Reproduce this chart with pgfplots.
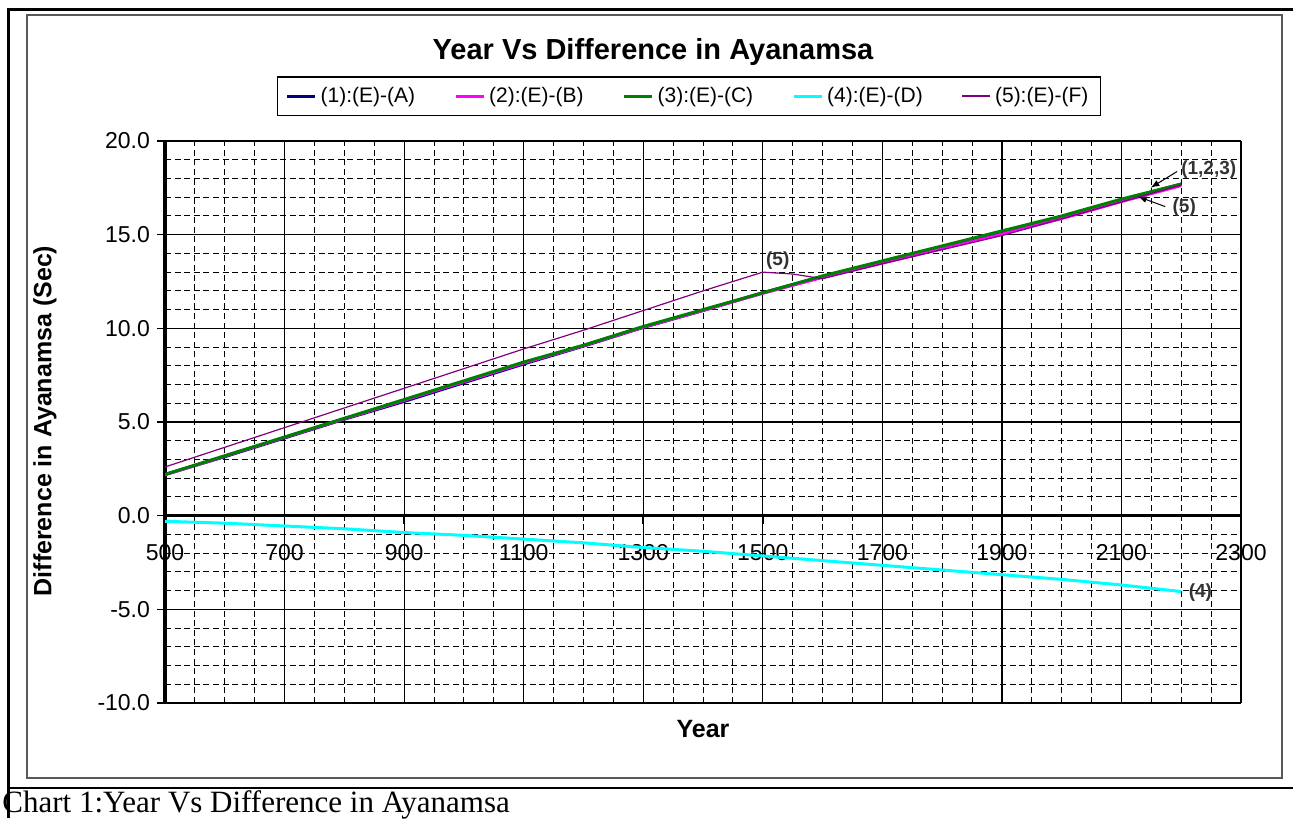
\documentclass[border=0pt]{standalone}
\usepackage{fontspec}
\setmainfont{Liberation Sans}
\newfontfamily\capfont{Liberation Serif}
\usepackage{pgfplots}
\pgfplotsset{compat=1.18}

\definecolor{sA}{RGB}{0,0,128}
\definecolor{sB}{RGB}{255,0,255}
\definecolor{sC}{RGB}{0,128,0}
\definecolor{sD}{RGB}{0,255,255}
\definecolor{sF}{RGB}{128,0,128}

\begin{document}
\begin{tikzpicture}
\useasboundingbox (0,0) rectangle (646.5pt,-409pt);
% frame, title, labels and caption (pixel grid of the reference)
\begin{scope}[x=0.5pt,y=-0.5pt]
  \draw[line width=1.5pt] (8,818) -- (8,10) -- (1293,10);
  \draw[line width=1.2pt] (8,788) -- (1293,788);
  \draw[black!65, line width=0.6pt] (27,15) rectangle (1282,778);
  \node[font=\bfseries\fontsize{14.5}{17}\selectfont] at (653,52) {Year Vs Difference in Ayanamsa};
  \node[font=\bfseries\fontsize{12.5}{15}\selectfont] at (703,729) {Year};
  \node[font=\bfseries\fontsize{12.5}{15}\selectfont, rotate=90] at (45,421) {Difference in Ayanamsa (Sec)};
  \node[anchor=base west, inner sep=0pt, font=\capfont\fontsize{15.5}{18}\selectfont] at (2,812) {Chart 1:Year Vs Difference in Ayanamsa};
\end{scope}

\begin{axis}[
  at={(82.5pt,-351.5pt)}, anchor=south west,
  scale only axis, width=538pt, height=281pt,
  xmin=500, xmax=2300, ymin=-10, ymax=20,
  axis x line*=middle, axis y line*=left,
  hide obscured x ticks=false, hide obscured y ticks=false,
  xtick={500,700,...,2300}, ytick={-10,-5,...,20},
  minor x tick num=3, minor y tick num=4,
  grid=both,
  major grid style={black, line width=0.6pt},
  minor grid style={black, line width=0.5pt, dash pattern=on 3pt off 1.8pt},
  x axis line style={line width=1.6pt},
  y axis line style={line width=1.6pt},
  tick style={black, line width=0.8pt},
  major tick length=4pt, minor tick length=0pt,
  tick align=outside,
  /pgf/number format/assume math mode=true,
  ticklabel style={font=\fontsize{11.5}{13}\selectfont},
  xticklabel style={/pgf/number format/1000 sep={}, yshift=-7pt},
  yticklabel style={/pgf/number format/.cd, fixed, fixed zerofill, precision=1},
  legend columns=5,
  legend style={at={(0.487,1.080)}, anchor=center, draw=black, line width=0.6pt,
    font=\fontsize{10.5}{12}\selectfont, inner ysep=3pt, inner xsep=4pt,
    /tikz/every even column/.append style={column sep=17.5pt}},
  legend image code/.code={\draw[#1] (0pt,0pt) -- (14pt,0pt);},
]

\addplot[color=sA, line width=1.5pt] coordinates {
(500,2.2)(600,3.15)(700,4.15)(800,5.15)(900,6.1)(1000,7.1)(1100,8.1)(1200,9.05)
(1300,10.05)(1400,10.95)(1500,11.9)(1600,12.75)(1700,13.55)(1800,14.35)(1900,15.15)
(2000,15.95)(2100,16.85)(2200,17.7)};
\addlegendentry{(1):(E)-(A)}

\addplot[color=sB, line width=1.5pt] coordinates {
(500,2.18)(600,3.18)(700,4.18)(800,5.17)(900,6.16)(1000,7.15)(1100,8.15)(1200,9.07)
(1300,10.06)(1400,10.96)(1500,11.87)(1600,12.72)(1700,13.48)(1800,14.25)(1900,15.03)
(2000,15.86)(2100,16.77)(2200,17.62)};
\addlegendentry{(2):(E)-(B)}

\addplot[color=sC, line width=1.5pt] coordinates {
(500,2.2)(600,3.2)(700,4.2)(800,5.2)(900,6.2)(1000,7.2)(1100,8.2)(1200,9.1)
(1300,10.1)(1400,11.0)(1500,11.9)(1600,12.8)(1700,13.6)(1800,14.4)(1900,15.2)
(2000,16.0)(2100,16.9)(2200,17.7)};
\addlegendentry{(3):(E)-(C)}

\addplot[color=sD, line width=1.5pt] coordinates {
(500,-0.3)(600,-0.4)(700,-0.55)(800,-0.7)(900,-0.9)(1000,-1.05)(1100,-1.25)(1200,-1.45)
(1300,-1.7)(1400,-1.9)(1500,-2.15)(1600,-2.4)(1700,-2.65)(1800,-2.9)(1900,-3.15)
(2000,-3.4)(2100,-3.7)(2200,-4.05)};
\addlegendentry{(4):(E)-(D)}

\addplot[color=sF, line width=0.6pt] coordinates {
(500,2.6)(600,3.65)(700,4.7)(800,5.75)(900,6.8)(1000,7.85)(1100,8.9)(1200,9.9)
(1300,10.95)(1400,12.0)(1500,13.0)(1550,12.9)(1600,12.65)(1700,13.45)(1800,14.2)(1900,14.95)
(2000,15.85)(2100,16.75)(2200,17.65)};
\addlegendentry{(5):(E)-(F)}

\begin{scope}[every node/.style={font=\bfseries\fontsize{9.5}{11}\selectfont, text=black!80, inner sep=1pt}]
  \node at (axis cs:2246,18.47) {(1,2,3)};
  \draw[-latex, line width=0.5pt] (axis cs:2193,18.37) -- (axis cs:2149,17.51);
  \node at (axis cs:2205,16.44) {(5)};
  \draw[-latex, line width=0.5pt] (axis cs:2173,16.5) -- (axis cs:2128,17.03);
  \node at (axis cs:1525,13.61) {(5)};
  \node at (axis cs:2232,-4.11) {(4)};
\end{scope}
\end{axis}
\end{tikzpicture}
\end{document}
